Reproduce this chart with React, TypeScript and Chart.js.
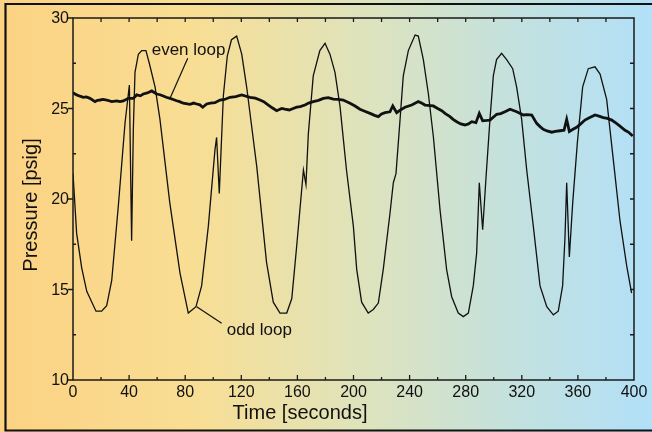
import React, { useEffect, useRef } from "react";
import { Chart, registerables } from "chart.js";

Chart.register(...registerables);

const oddTime = [0, 2.6, 6.2, 9.8, 16.4, 20.4, 24, 27.6, 32.3, 37.1, 40.2, 41.8, 43, 44.2, 46.6, 49, 52, 54.4, 58.5, 62, 69, 76.3, 82.2, 87.7, 91.7, 96.5, 101.2, 102.4, 104.3, 107.2, 110, 113, 116.7, 120.3, 123.8, 131, 138, 142.8, 147.6, 152.4, 156, 159.5, 164.3, 166.1, 167.8, 171.3, 176, 179.7, 183.2, 186.8, 190.4, 195, 199.9, 202.3, 205.8, 210.5, 214.1, 217.7, 221.2, 226, 228.4, 230.3, 233.2, 235.5, 239.1, 243.9, 246.2, 249.8, 253.4, 257, 261.7, 266.4, 270, 274.7, 278.3, 281.9, 285.4, 287.8, 289.7, 292.1, 294.5, 297.3, 299.7, 302, 305.6, 309.2, 313.5, 316.3, 319.9, 323.5, 328.2, 333, 337.8, 342.5, 346, 349.1, 350.8, 352, 353.9, 356.3, 359.6, 363.4, 367.4, 372.2, 375.8, 380.5, 385.2, 390, 394.8, 398.3];
const oddPressure = [21.4, 18.1, 16.2, 14.9, 13.8, 13.8, 14.1, 15.5, 19.6, 24.2, 26.3, 17.7, 23.8, 27.0, 28.0, 28.2, 28.2, 27.5, 26.2, 24.4, 19.8, 15.9, 13.7, 14.05, 15.2, 18.5, 22.7, 23.4, 20.3, 25.7, 27.9, 28.8, 29.0, 28.0, 26.2, 21.8, 16.5, 14.3, 13.7, 13.7, 14.5, 17.4, 21.6, 20.8, 23.6, 26.8, 28.2, 28.6, 28.0, 27.0, 25.1, 21.6, 18.5, 16.1, 14.3, 13.7, 13.9, 14.25, 16.1, 19.2, 20.9, 21.4, 24.4, 26.8, 28.2, 29.06, 29.0, 27.7, 25.8, 23.4, 19.4, 16.1, 14.6, 13.7, 13.5, 13.7, 15.2, 17.0, 20.9, 18.3, 21.2, 24.4, 26.8, 27.7, 28.05, 27.7, 27.2, 26.2, 24.4, 21.6, 18.5, 15.2, 14.05, 13.6, 13.8, 15.2, 17.9, 20.9, 16.8, 19.8, 23.1, 26.2, 27.2, 27.3, 26.9, 25.5, 22.2, 18.8, 16.3, 14.8];

const evenTime = [0, 2.6, 5, 7.3, 9.5, 12.1, 15.7, 17.5, 19.3, 21.5, 24, 27.6, 31.2, 33.5, 35.9, 39.4, 43, 45.4, 48, 50.1, 53, 56.1, 59.7, 62, 64.4, 66.5, 69.2, 71.5, 73.9, 76, 78.6, 83.4, 86, 88.2, 90.5, 92.5, 95.3, 98, 101.2, 104.8, 108, 111.9, 116, 120.3, 126.2, 130, 133.3, 136, 139.3, 142, 145.2, 148.8, 151, 154.2, 157, 159.5, 162, 165.4, 168, 171.3, 175, 178.5, 182, 185.6, 189, 192.7, 197.5, 201.1, 204.6, 208, 211.8, 215, 217.7, 220, 222.5, 226, 228, 230.8, 233, 236.7, 241.5, 246.2, 248.5, 251, 256.9, 260, 262.9, 265.5, 268.8, 271, 273.6, 276.5, 279.5, 282, 284.3, 287.3, 289.7, 292.1, 295, 297.3, 302.1, 305, 308, 311.6, 316.4, 321.1, 324, 327.1, 330.6, 333, 335.3, 338, 341.3, 344, 347.2, 350.1, 352, 353.9, 356.5, 359.1, 362, 365, 368.5, 372.2, 375, 378.1, 381, 384.1, 387, 390, 393.6, 396, 399.1];
const evenPressure = [25.87, 25.75, 25.68, 25.62, 25.64, 25.56, 25.38, 25.45, 25.47, 25.5, 25.47, 25.38, 25.42, 25.38, 25.42, 25.56, 25.56, 25.75, 25.7, 25.8, 25.86, 25.97, 25.8, 25.76, 25.69, 25.62, 25.56, 25.5, 25.43, 25.38, 25.29, 25.23, 25.3, 25.25, 25.2, 25.07, 25.25, 25.3, 25.32, 25.47, 25.5, 25.62, 25.66, 25.75, 25.62, 25.57, 25.47, 25.38, 25.19, 25.04, 24.88, 25.0, 24.96, 24.92, 25.0, 25.07, 25.1, 25.19, 25.3, 25.38, 25.45, 25.56, 25.6, 25.52, 25.5, 25.47, 25.29, 25.14, 24.96, 24.85, 24.73, 24.62, 24.55, 24.7, 24.77, 24.82, 25.14, 24.77, 24.9, 25.07, 25.19, 25.38, 25.3, 25.19, 25.14, 25.0, 24.88, 24.72, 24.55, 24.4, 24.27, 24.15, 24.09, 24.15, 24.27, 24.22, 24.73, 24.32, 24.34, 24.36, 24.68, 24.72, 24.82, 24.96, 24.82, 24.64, 24.66, 24.64, 24.18, 24.0, 23.85, 23.76, 23.69, 23.74, 23.77, 23.8, 24.4, 23.73, 23.85, 23.96, 24.15, 24.36, 24.5, 24.64, 24.58, 24.5, 24.45, 24.36, 24.2, 24.03, 23.8, 23.7, 23.48];

const xTicks = [0, 40, 80, 120, 160, 200, 240, 280, 320, 360, 400];
const yTicks = [10, 15, 20, 25, 30];

const evenLabel = { text: "even loop", t: 56.1, p: 28.23, fromT: 81.8, fromP: 27.77, toT: 69.2, toP: 25.56 };
const oddLabel = { text: "odd loop", t: 109.6, p: 12.76, fromT: 106, fromP: 13.13, toT: 88.2, toP: 14.05 };

const FONT = "'Liberation Sans', Arial, sans-serif";

const backgroundPlugin = {
  id: "bg",
  beforeDraw(chart: any) {
    const { ctx, width, height } = chart;
    ctx.save();
    const g = ctx.createLinearGradient(0, 0, width, 0);
    g.addColorStop(0, "#FCD283");
    g.addColorStop(0.3, "#F8DE94");
    g.addColorStop(0.55, "#DFE3BB");
    g.addColorStop(0.8, "#C2E1E0");
    g.addColorStop(1, "#B2E0F8");
    ctx.fillStyle = g;
    ctx.fillRect(0, 0, width, height);
    ctx.strokeStyle = "#111";
    ctx.lineWidth = 2.2;
    ctx.beginPath();
    ctx.moveTo(5.5, 4);
    ctx.lineTo(width, 4);
    ctx.moveTo(5.5, 3);
    ctx.lineTo(5.5, 431);
    ctx.moveTo(4.5, 430.5);
    ctx.lineTo(width, 430.5);
    ctx.stroke();
    ctx.restore();
  },
};

const axesPlugin = {
  id: "axesBox",
  afterDatasetsDraw(chart: any) {
    const { ctx, chartArea } = chart;
    const xs = chart.scales.x;
    const ys = chart.scales.y;
    const { left, right, top, bottom } = chartArea;
    ctx.save();
    ctx.strokeStyle = "#1a1a1a";
    ctx.lineWidth = 1.5;
    ctx.strokeRect(left, top, right - left, bottom - top);
    ctx.lineWidth = 1.3;
    ctx.beginPath();
    for (let v = 20; v < 400; v += 20) {
      const px = xs.getPixelForValue(v);
      const major = v % 40 === 0;
      ctx.moveTo(px, bottom);
      ctx.lineTo(px, bottom - (major ? 5 : 3));
      ctx.moveTo(px, top);
      ctx.lineTo(px, top + 4);
    }
    for (let v = 12.5; v < 30; v += 2.5) {
      const py = ys.getPixelForValue(v);
      const major = v % 5 === 0;
      if (major) {
        ctx.moveTo(left - 5, py);
        ctx.lineTo(left, py);
      } else {
        ctx.moveTo(left, py);
        ctx.lineTo(left + 3, py);
      }
      ctx.moveTo(right, py);
      ctx.lineTo(right - 4, py);
    }
    const py30 = ys.getPixelForValue(30);
    ctx.moveTo(left - 5, py30);
    ctx.lineTo(left, py30);
    const py10 = ys.getPixelForValue(10);
    ctx.moveTo(left - 5, py10);
    ctx.lineTo(left, py10);
    ctx.stroke();
    ctx.restore();
  },
  afterDraw(chart: any) {
    const { ctx, chartArea } = chart;
    const xs = chart.scales.x;
    const ys = chart.scales.y;
    ctx.save();
    ctx.fillStyle = "#111";
    ctx.strokeStyle = "#111";
    // tick labels
    ctx.font = `16px ${FONT}`;
    ctx.textBaseline = "middle";
    ctx.textAlign = "center";
    for (const v of xTicks) {
      ctx.fillText(String(v), xs.getPixelForValue(v), chartArea.bottom + 13);
    }
    ctx.textAlign = "right";
    for (const v of yTicks) {
      ctx.fillText(String(v), chartArea.left - 4, ys.getPixelForValue(v) + 1);
    }
    // annotations
    ctx.lineWidth = 1.2;
    ctx.font = `17px ${FONT}`;
    ctx.textAlign = "left";
    for (const a of [evenLabel, oddLabel]) {
      ctx.fillText(a.text, xs.getPixelForValue(a.t), ys.getPixelForValue(a.p));
      ctx.beginPath();
      ctx.moveTo(xs.getPixelForValue(a.fromT), ys.getPixelForValue(a.fromP));
      ctx.lineTo(xs.getPixelForValue(a.toT), ys.getPixelForValue(a.toP));
      ctx.stroke();
    }
    // axis titles
    ctx.font = `20px ${FONT}`;
    ctx.textAlign = "center";
    ctx.fillText("Time [seconds]", 300, 413);
    ctx.translate(31, 205);
    ctx.rotate(-Math.PI / 2);
    ctx.fillText("Pressure [psig]", 0, 0);
    ctx.restore();
  },
};

export default function App() {
  const ref = useRef<HTMLCanvasElement>(null);
  useEffect(() => {
    document.body.style.margin = "0";
    const canvas = ref.current!;
    const chart = new Chart(canvas, {
      type: "line",
      data: {
        datasets: [
          {
            label: "odd loop",
            data: oddTime.map((t, i) => ({ x: t, y: oddPressure[i] })),
            borderColor: "#111",
            borderWidth: 1.3,
            pointRadius: 0,
            tension: 0,
            fill: false,
          },
          {
            label: "even loop",
            data: evenTime.map((t, i) => ({ x: t, y: evenPressure[i] })),
            borderColor: "#111",
            borderWidth: 2.8,
            pointRadius: 0,
            tension: 0,
            fill: false,
          },
        ],
      },
      options: {
        animation: false,
        responsive: false,
        devicePixelRatio: 1,
        layout: { padding: { top: 18, right: 18, left: 0, bottom: 0 } },
        plugins: { legend: { display: false }, tooltip: { enabled: false } },
        scales: {
          x: {
            type: "linear",
            min: 0,
            max: 400,
            afterFit: (s: any) => {
              s.height = 52;
            },
            grid: { display: false },
            border: { display: false },
            ticks: { display: false },
          },
          y: {
            type: "linear",
            min: 10,
            max: 30,
            afterFit: (s: any) => {
              s.width = 73;
            },
            grid: { display: false },
            border: { display: false },
            ticks: { display: false },
          },
        },
      },
      plugins: [backgroundPlugin, axesPlugin],
    });
    return () => chart.destroy();
  }, []);
  return (
    <div style={{ position: "fixed", left: 0, top: 0, width: 652, height: 432 }}>
      <canvas ref={ref} width={652} height={432} />
    </div>
  );
}
